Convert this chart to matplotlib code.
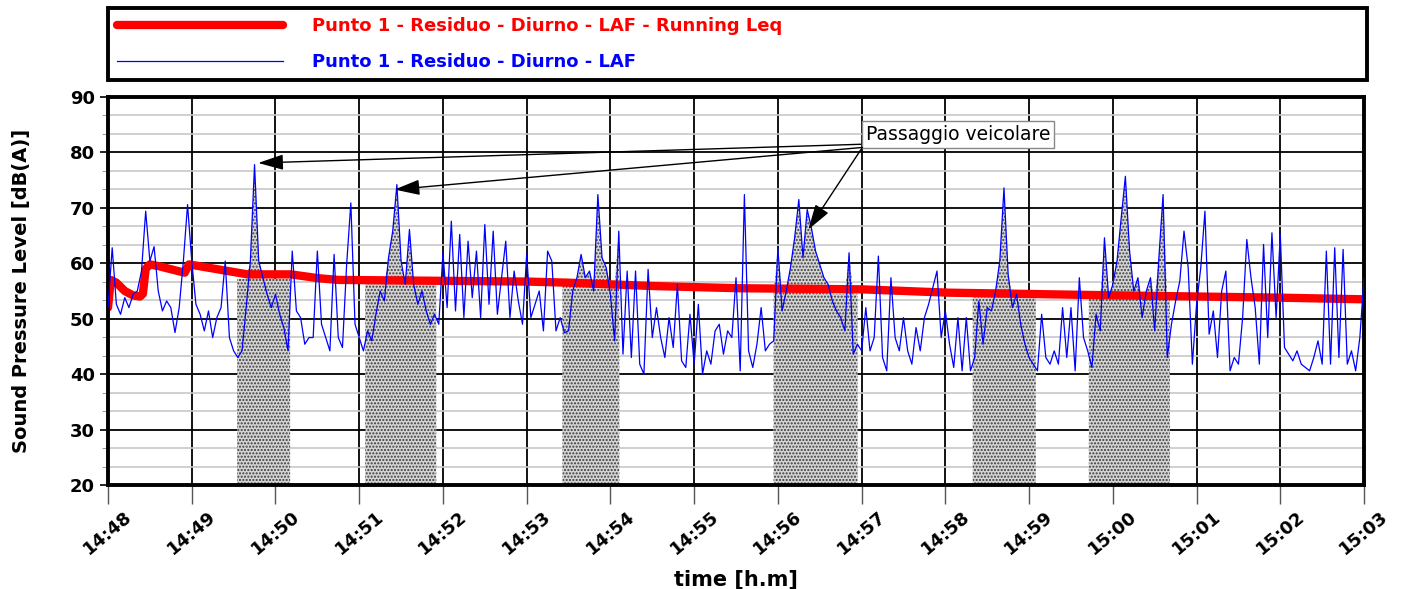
import numpy as np
import matplotlib
matplotlib.use("Agg")
import matplotlib.pyplot as plt
from matplotlib.ticker import MultipleLocator

# LAF samples every 3 s, starting 14:48:00
step_s = 3
laf = [
    52, 62.8, 52.6, 50.8, 53.8, 52, 54.4, 55, 58.6, 69.4,          # 0 s
    60.4, 63, 55, 51.4, 53.2, 52, 47.5, 52, 60.4, 70.6,            # 30 s
    60.4, 52.6, 50.8, 47.8, 51.4, 46.6, 50.2, 52, 60.4, 46.6,      # 60 s
    44.2, 43, 44.2, 52, 60.4, 77.8, 60.4, 57.4, 54.4, 52,          # 90 s
    54.4, 50.8, 48.4, 44.2, 62.2, 51.4, 50.2, 45.4, 46.6, 46.6,    # 120 s
    62.2, 49, 46.6, 44.2, 61.6, 46.6, 44.8, 59.8, 70.9, 49,        # 150 s
    46.6, 44.2, 47.8, 46, 50.8, 55, 53.2, 61, 65.8, 74.2,          # 180 s
    60.4, 56.2, 66.1, 56.2, 52.6, 55, 51.4, 49, 50.8, 49,          # 210 s
    61.9, 52, 67.6, 51.4, 65.2, 50.2, 64, 53.8, 62.2, 50.2,        # 240 s
    67, 52.6, 65.8, 50.8, 57.4, 64, 50.2, 58.6, 53.2, 49,          # 270 s
    61.6, 50.2, 52.6, 55, 47.8, 62.2, 60.4, 47.8, 50.2, 47.5,      # 300 s
    47.8, 55, 57.4, 61.6, 57.4, 58.6, 55, 72.4, 61, 59.2,          # 330 s
    54.4, 46, 65.8, 43.6, 58.6, 43, 58.6, 41.8, 40, 58.9,          # 360 s
    46.6, 52, 46.6, 43, 50.2, 44.8, 56.2, 42.4, 41.2, 50.8,        # 390 s
    41.8, 52.6, 40, 44.2, 41.8, 47.8, 49, 43.6, 47.8, 46.6,        # 420 s
    57.4, 40.6, 72.4, 44.2, 41.2, 45.4, 52, 44.2, 45.4, 46,        # 450 s
    62.8, 51.4, 55, 59.2, 64.6, 71.5, 61, 69.7, 66.4, 62.2,        # 480 s
    59.8, 57.4, 56.2, 53.2, 51.4, 50.2, 47.8, 61.9, 43.6, 45.4,    # 510 s
    44.2, 52, 44.2, 46.6, 61.3, 43, 40.6, 57.4, 46.6, 44.2,        # 540 s
    50.2, 44.2, 41.8, 48.4, 44.2, 50.2, 52.6, 55.6, 58.6, 46.6,    # 570 s
    51.4, 45.4, 41.2, 50.2, 40.6, 50.2, 40.6, 43, 53.2, 45.4,      # 600 s
    52, 51.4, 55, 60.4, 73.6, 58, 52, 54.4, 49, 45.4,              # 630 s
    43, 41.8, 40.6, 50.8, 43, 41.8, 44.2, 41.8, 52, 43,            # 660 s
    52, 40.6, 57.4, 46.6, 44.2, 41.2, 50.8, 47.8, 64.6, 53.8,      # 690 s
    56.2, 60.4, 68.2, 75.7, 62.2, 55, 57.4, 50.2, 55, 57.4,        # 720 s
    47.8, 61, 72.4, 43, 49, 53.2, 56.8, 65.8, 59.2, 41.8,          # 750 s
    52.6, 59.2, 69.4, 47.2, 51.4, 43, 55, 58.6, 40.6, 43,          # 780 s
    41.8, 50.2, 64.3, 57.4, 52, 41.8, 63.4, 46.6, 65.5, 50.2,      # 810 s
    65.2, 44.8, 43.6, 42.4, 44.2, 41.8, 41.2, 40.6, 43, 46,        # 840 s
    41.8, 62.2, 41.8, 62.8, 43, 62.5, 41.8, 44.2, 40.6, 46.6,      # 870 s
    57.4,                                                          # 900 s
]

# running Leq (seconds from 14:48:00, dB)
leq_t = [0, 2, 6, 12, 18, 23, 25, 27, 30, 36, 55, 58, 100, 131, 151, 165,
         300, 330, 390, 452, 540, 602, 700, 753, 839, 900]
leq = [52, 57, 56.5, 55, 54.2, 54, 54.5, 59, 59.8, 59.5, 58.3, 59.8, 58, 58, 57.3, 57,
       56.7, 56.5, 55.9, 55.5, 55.3, 54.7, 54.3, 54.1, 53.8, 53.5]

# masked vehicle passages (start s, end s, level dB)
shade_start = [92.5, 184.3, 325.6, 476.9, 619.6, 702.8]
shade_end = [130.5, 235.2, 366.4, 537.1, 664.8, 760.9]
shade_level = [57.2, 56.3, 55.9, 54.5, 53.9, 53.6]

tick_labels = ['14:48', '14:49', '14:50', '14:51', '14:52', '14:53', '14:54', '14:55',
               '14:56', '14:57', '14:58', '14:59', '15:00', '15:01', '15:02', '15:03']

# arrow targets of the "Passaggio veicolare" note (s, dB)
note_targets_t = [107.6, 205.3, 501.8]
note_targets_db = [78.1, 73.3, 66.1]

plt.rcParams['font.family'] = ['DejaVu Sans']
plt.rcParams['font.weight'] = 'bold'
plt.rcParams['axes.labelweight'] = 'bold'
plt.rcParams['hatch.linewidth'] = 1.0

t = np.arange(len(laf)) * step_s
laf = np.array(laf)

fig = plt.figure(figsize=(14.1, 5.89), dpi=100)
ax = fig.add_axes([0.0766, 0.1766, 0.8908, 0.6587])

for s0, s1, lev in zip(shade_start, shade_end, shade_level):
    m = (t >= s0) & (t <= s1)
    xs = np.concatenate([[s0], t[m], [s1]])
    ys = np.concatenate([[lev], np.maximum(laf[m], lev), [lev]])
    ax.fill_between(xs, 20, ys, facecolor='#d4d4d4', edgecolor='#3a3a3a',
                    hatch='.....', linewidth=0, zorder=1)

red, = ax.plot(leq_t, leq, color='#ff0000', lw=6, solid_capstyle='round', zorder=2,
               label='Punto 1 - Residuo - Diurno - LAF - Running Leq')
blue, = ax.plot(t, laf, color='#0000ff', lw=0.9, zorder=3,
                label='Punto 1 - Residuo - Diurno - LAF')

ax.set_xlim(0, 900)
ax.set_ylim(20, 90)
ax.set_xticks(np.arange(len(tick_labels)) * 60)
ax.set_xticklabels(tick_labels, rotation=40, ha='center', fontsize=13)
ax.yaxis.set_major_locator(MultipleLocator(10))
ax.yaxis.set_minor_locator(MultipleLocator(10 / 3))
ax.tick_params(axis='y', labelsize=13, length=6, width=1.2)
ax.tick_params(axis='y', which='minor', length=4, color='#888888')
ax.tick_params(axis='x', length=14, width=1, color='#555555', pad=2)
ax.set_axisbelow(True)
ax.grid(which='major', color='black', lw=1.3)
ax.grid(which='minor', axis='y', color='#c8c8c8', lw=1.2)
for sp in ax.spines.values():
    sp.set_linewidth(2.8)

ax.set_xlabel('time [h.m]', fontsize=15, labelpad=8)
ax.set_ylabel('Sound Pressure Level [dB(A)]', fontsize=14, labelpad=28)

# note with arrows
ax.annotate('Passaggio veicolare', xy=(note_targets_t[0], note_targets_db[0]),
            xytext=(542.9, 81.5), ha='left', va='bottom', fontsize=13.5,
            fontweight='normal', zorder=5,
            bbox=dict(boxstyle='square,pad=0.2', fc='white', ec='#888888', lw=1),
            arrowprops=dict(arrowstyle='-|>,head_length=0.65,head_width=0.2',
                            mutation_scale=24, color='black', lw=1,
                            relpos=(0, 0), shrinkA=0, shrinkB=0))
for xt, yt in zip(note_targets_t[1:], note_targets_db[1:]):
    ax.annotate('', xy=(xt, yt), xytext=(540.5, 80.9), zorder=5,
                arrowprops=dict(arrowstyle='-|>,head_length=0.65,head_width=0.2',
                                mutation_scale=24, color='black', lw=1,
                                shrinkA=0, shrinkB=0))

leg = fig.legend(handles=[red, blue], loc='upper left',
                 bbox_to_anchor=(0.0766, 0.986, 0.893, 0.0), mode='expand',
                 borderaxespad=0, fontsize=13, handlelength=9.2, handletextpad=1.6,
                 labelspacing=1.0, borderpad=0.5, fancybox=False,
                 framealpha=1, edgecolor='black')
leg.get_frame().set_linewidth(2.8)
for txt, c in zip(leg.get_texts(), ['#ff0000', '#0000ff']):
    txt.set_color(c)

fig.savefig('out.png', dpi=100)
